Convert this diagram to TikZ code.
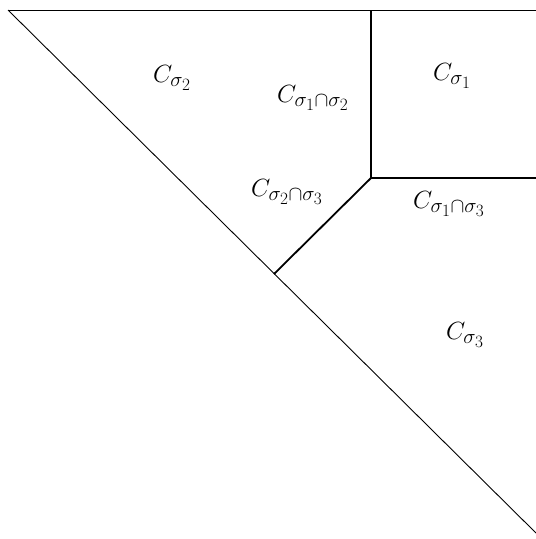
\documentclass[tikz,border=0pt]{standalone}
\usepackage{amsmath}
\DeclareMathSizes{26}{26}{22}{17}
\begin{document}
\begin{tikzpicture}[x=1pt, y=-1pt, font=\fontsize{26}{31}\selectfont]
    \useasboundingbox (0,0) rectangle (536,539);
    \coordinate (P) at (8,10);
    \coordinate (R) at (536,10);
    \coordinate (D) at (536,533);
    \coordinate (M) at (371,10);
    \coordinate (J) at (371,178);
    \coordinate (E) at (536,178);
    \coordinate (F) at (274,274);

    % outer edges of the chamber
    \draw[line width=0.9pt] (P) -- (R);
    \draw[line width=0.9pt] (P) -- (D);

    % thick walls meeting at J
    \draw[line width=1.8pt] (M) -- (J);
    \draw[line width=1.8pt] (J) -- (E);
    \draw[line width=1.8pt] (J) -- (F);

    \node (c2) at (172,78) {$C_{\sigma_2}$};
    \node (c12) at (313,98) {$C_{\sigma_1\cap\sigma_2}$};
    \node (c1) at (452,76) {$C_{\sigma_1}$};
    \node (c23) at (287,192) {$C_{\sigma_2\cap\sigma_3}$};
    \node (c13) at (449,204) {$C_{\sigma_1\cap\sigma_3}$};
    \node (c3) at (465,335) {$C_{\sigma_3}$};
\end{tikzpicture}
\end{document}
